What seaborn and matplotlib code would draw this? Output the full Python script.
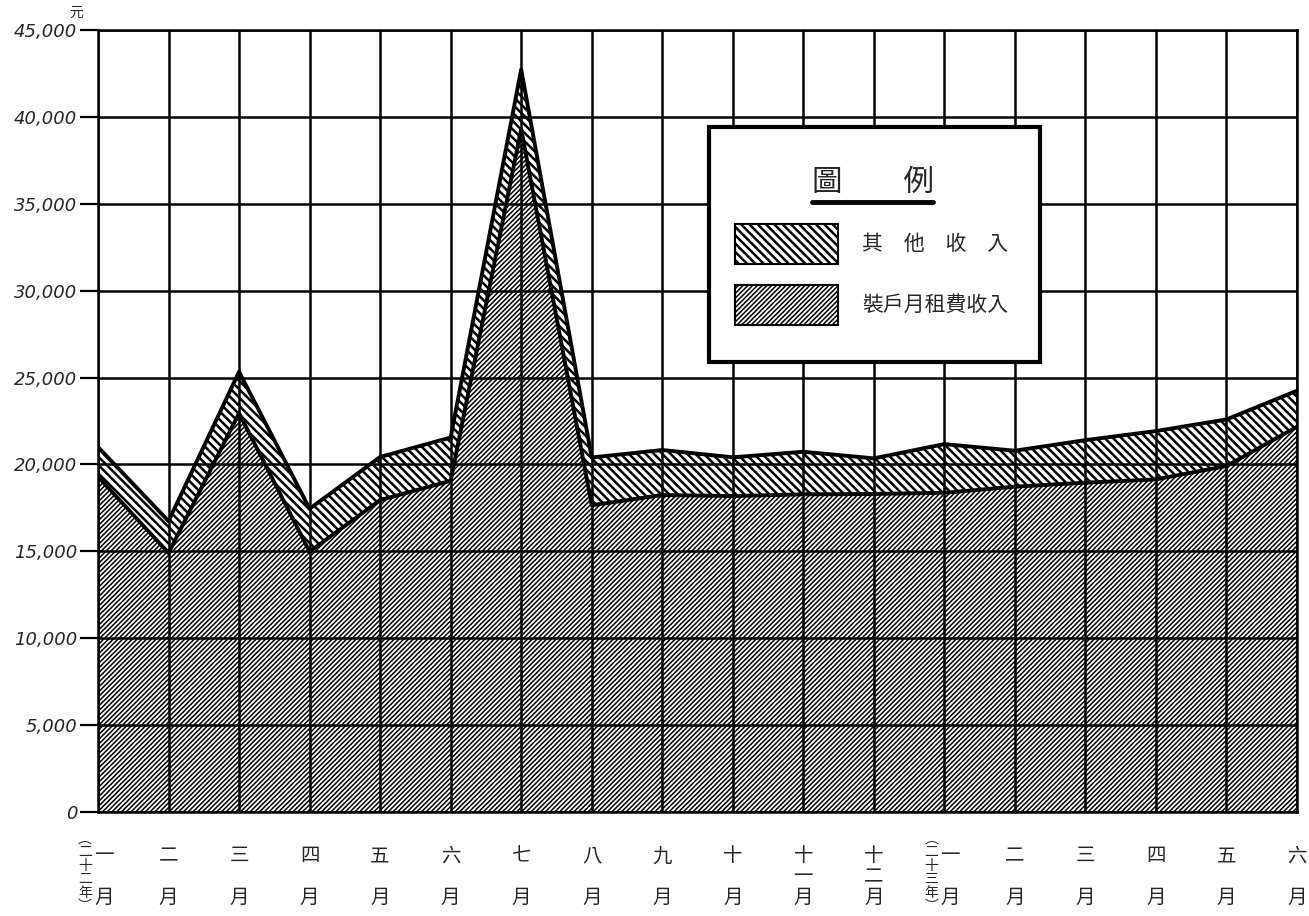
import pandas as pd
import matplotlib
matplotlib.use("Agg")
import matplotlib.pyplot as plt
import matplotlib.transforms as mtransforms
from matplotlib.patches import Rectangle
from matplotlib.lines import Line2D
import seaborn as sns

# -------------- DATA ------------------------
MONTHS = ["一", "二", "三", "四", "五", "六", "七", "八", "九", "十", "十一", "十二",
          "一", "二", "三", "四", "五", "六"]
RENT = [19300, 14900, 22950, 14980, 17950, 19060, 39300, 17650, 18240, 18180, 18280, 18300,
        18370, 18720, 18950, 19140, 19910, 22170]
TOTAL = [21000, 16740, 25330, 17450, 20430, 21550, 42730, 20400, 20830, 20410, 20730, 20350,
         21170, 20790, 21400, 21920, 22590, 24240]
YEAR_MARKS = {0: "二十二年", 12: "二十三年"}
Y_TICKS = list(range(0, 45001, 5000))
LEGEND_TITLE = "圖　　例"
LEGEND_LABELS = ["其　他　收　入", "裝戶月租費收入"]

W, H = 1309, 916
HATCH_RENT = "/" * 7
HATCH_OTHER = "\\" * 4
LW_RENT = 1.1
LW_OTHER = 1.8


def px(x, y):
    # pixel position -> figure fraction
    return x / W, 1 - y / H


def month_label(m):
    if len(m) == 1:
        return f"{m}\n　\n月"
    return f"{m[0]}\n{m[1]}\n月"


if __name__ == "__main__":
    sns.set_theme(style="white")
    plt.rcParams["font.family"] = ["Noto Sans CJK TC", "DejaVu Sans"]
    plt.rcParams["hatch.linewidth"] = 1.5
    plt.rcParams["hatch.color"] = "black"

    df = pd.DataFrame({"x": range(len(MONTHS)), "rent": RENT, "total": TOTAL})
    long_df = df.melt(id_vars="x", value_vars=["rent", "total"])

    fig = plt.figure(figsize=(W / 100, H / 100), dpi=100)
    ax = fig.add_axes([98 / W, 1 - 812 / H, (1297 - 98) / W, (812 - 30) / H])

    # hatched areas
    with plt.rc_context({"hatch.linewidth": LW_RENT}):
        ax.fill_between(df["x"], 0, df["rent"], facecolor="white", edgecolor="black",
                        hatch=HATCH_RENT, linewidth=0, zorder=1)
    with plt.rc_context({"hatch.linewidth": LW_OTHER}):
        ax.fill_between(df["x"], df["rent"], df["total"], facecolor="white", edgecolor="black",
                        hatch=HATCH_OTHER, linewidth=0, zorder=1)

    sns.lineplot(data=long_df, x="x", y="value", units="variable", estimator=None,
                 color="black", linewidth=2.8, ax=ax, legend=False, zorder=4)

    ax.set_xlim(0, len(MONTHS) - 1)
    ax.set_ylim(0, 45000)
    ax.set_xticks(range(len(MONTHS)))
    ax.set_xticklabels([month_label(m) for m in MONTHS], fontsize=14, linespacing=1.0,
                       va="top")
    ax.set_yticks(Y_TICKS)
    ax.set_yticklabels([f"{v:,}" for v in Y_TICKS], fontsize=13,
                       family="DejaVu Sans", style="italic")
    ax.set_xlabel("")
    ax.set_ylabel("")

    ax.set_axisbelow(False)
    ax.grid(True, color="black", linewidth=1.8)
    ax.tick_params(axis="x", length=0, pad=24)
    ax.tick_params(axis="y", length=13, width=1.6, color="black", pad=2, left=True)
    for s in ax.spines.values():
        s.set_color("black")
        s.set_linewidth(1.8)

    # first month of each year: shift label right, year mark on the left
    for i, yr in YEAR_MARKS.items():
        lbl = ax.get_xticklabels()[i]
        lbl.set_transform(lbl.get_transform() + mtransforms.Affine2D().translate(6, 0))
        tr = mtransforms.offset_copy(ax.get_xaxis_transform(), fig=fig, x=-13, y=-20,
                                     units="dots")
        ax.text(i, 0, "︵\n" + "\n".join(yr) + "\n︶", transform=tr, fontsize=10,
                linespacing=0.95, ha="center", va="top")

    fig.text(*px(76, 13), "元", fontsize=10, ha="center", va="center")

    # -------------- LEGEND BOX ------------------------
    x0, y0 = px(709, 362)
    x1, y1 = px(1040, 127)
    fig.add_artist(Rectangle((x0, y0), x1 - x0, y1 - y0, transform=fig.transFigure,
                             facecolor="white", edgecolor="black", linewidth=3, zorder=10))
    fig.text(*px(873, 182), LEGEND_TITLE, fontsize=22, ha="center", va="center", zorder=11)
    ux0, uy = px(812, 202)
    ux1, _ = px(933, 202)
    fig.add_artist(Line2D([ux0, ux1], [uy, uy], transform=fig.transFigure,
                          color="black", linewidth=3.5, zorder=11))

    for (top, bot), hatch, hlw, label in zip([(224, 264), (285, 325)],
                                             [HATCH_OTHER, HATCH_RENT],
                                             [LW_OTHER, LW_RENT], LEGEND_LABELS):
        bx0, by0 = px(735, bot)
        bx1, by1 = px(838, top)
        with plt.rc_context({"hatch.linewidth": hlw}):
            fig.add_artist(Rectangle((bx0, by0), bx1 - bx0, by1 - by0,
                                     transform=fig.transFigure, facecolor="white",
                                     edgecolor="black", hatch=hatch, linewidth=1.5,
                                     zorder=11))
        fig.text(*px(862, (top + bot) / 2), label, fontsize=15, ha="left", va="center",
                 zorder=11)

    fig.savefig("out.png", dpi=100)
    plt.close(fig)
